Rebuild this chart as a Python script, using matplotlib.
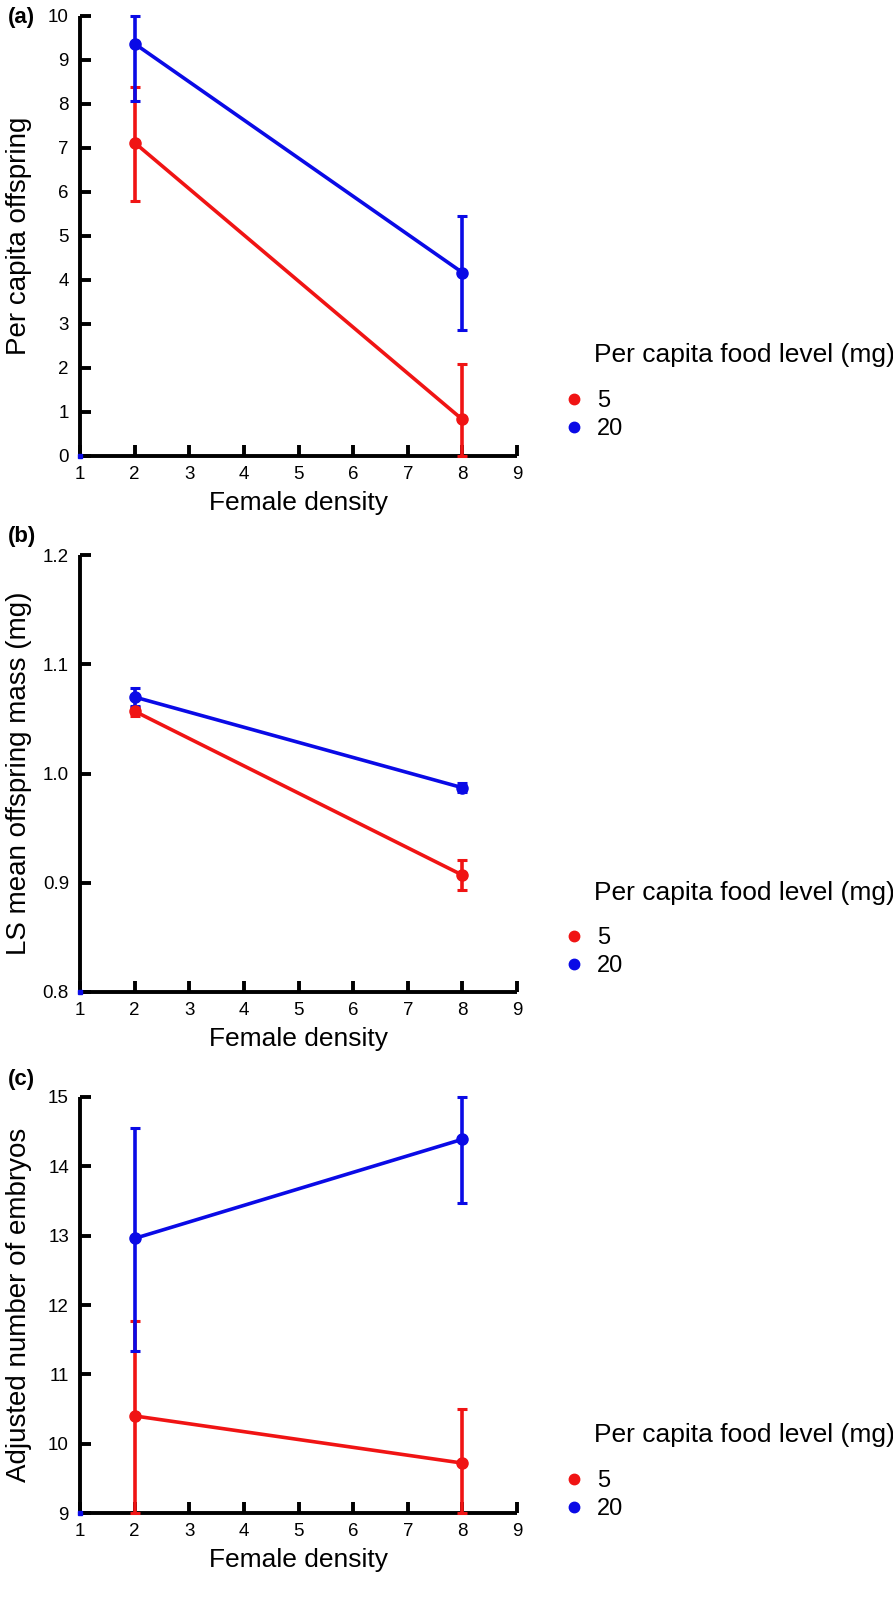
import matplotlib
matplotlib.use("Agg")
import matplotlib.pyplot as plt
from matplotlib.lines import Line2D

plt.rcParams['font.family'] = ['Liberation Sans', 'DejaVu Sans']

# ---------------- data ----------------
density = [2, 8]
food_levels = ["5", "20"]
colors = ["#f01414", "#0a0ae6"]
x_ticks = [1, 2, 3, 4, 5, 6, 7, 8, 9]

# (a) Per capita offspring
a_mean_5 = [7.12, 0.83]
a_lo_5 = [1.32, 0.83]
a_hi_5 = [1.27, 1.27]
a_mean_20 = [9.37, 4.17]
a_lo_20 = [1.30, 1.30]
a_hi_20 = [0.63, 1.28]
a_yticks = [0, 1, 2, 3, 4, 5, 6, 7, 8, 9, 10]
a_yticklabels = ["0", "1", "2", "3", "4", "5", "6", "7", "8", "9", "10"]

# (b) LS mean offspring mass (mg)
b_mean_5 = [1.057, 0.907]
b_lo_5 = [0.004, 0.014]
b_hi_5 = [0.004, 0.014]
b_mean_20 = [1.070, 0.987]
b_lo_20 = [0.008, 0.004]
b_hi_20 = [0.008, 0.004]
b_yticks = [0.8, 0.9, 1.0, 1.1, 1.2]
b_yticklabels = ["0.8", "0.9", "1.0", "1.1", "1.2"]

# (c) Adjusted number of embryos
c_mean_5 = [10.40, 9.72]
c_lo_5 = [1.40, 0.72]
c_hi_5 = [1.37, 0.78]
c_mean_20 = [12.96, 14.39]
c_lo_20 = [1.62, 0.92]
c_hi_20 = [1.59, 0.61]
c_yticks = [9, 10, 11, 12, 13, 14, 15]
c_yticklabels = ["9", "10", "11", "12", "13", "14", "15"]

panel_labels = ["(a)", "(b)", "(c)"]
y_labels = ["Per capita offspring", "LS mean offspring mass (mg)",
            "Adjusted number of embryos"]
x_label = "Female density"
legend_title = "Per capita food level (mg)"

# ---------------- figure ----------------
W, H = 893, 1599
fig = plt.figure(figsize=(W / 100, H / 100), dpi=100)

def fx(px):
    return px / W

def fy(py):
    return 1 - py / H

# axes boxes in pixels: (top, bottom)
boxes = [(16, 456), (555, 992), (1097, 1513)]
left_px, right_px = 80, 517
legend_pos = [(355, 405), (893, 942), (1435, 1485)]  # title y, first entry y
label_y = [17, 537, 1080]

panels = [
    (a_mean_5, a_lo_5, a_hi_5, a_mean_20, a_lo_20, a_hi_20, a_yticks, a_yticklabels),
    (b_mean_5, b_lo_5, b_hi_5, b_mean_20, b_lo_20, b_hi_20, b_yticks, b_yticklabels),
    (c_mean_5, c_lo_5, c_hi_5, c_mean_20, c_lo_20, c_hi_20, c_yticks, c_yticklabels),
]

for i, (m5, l5, h5, m20, l20, h20, yt, ytl) in enumerate(panels):
    top, bot = boxes[i]
    ax = fig.add_axes([fx(left_px), fy(bot), fx(right_px - left_px), (bot - top) / H])
    for m, lo, hi, col in [(m5, l5, h5, colors[0]), (m20, l20, h20, colors[1])]:
        ax.errorbar(density, m, yerr=[lo, hi], color=col, lw=2.6, marker='o',
                    ms=8, elinewidth=2.6, capsize=3.5, capthick=2.2,
                    clip_on=False, zorder=3)
    ax.set_xlim(x_ticks[0], x_ticks[-1])
    ax.set_ylim(yt[0], yt[-1])
    # tiny blue mark at origin seen in the original
    ax.plot([x_ticks[0]], [yt[0]], 's', color=colors[1], ms=2.5, clip_on=False, zorder=4)
    ax.set_xticks(x_ticks)
    ax.set_xticklabels([str(v) for v in x_ticks])
    ax.set_yticks(yt)
    ax.set_yticklabels(ytl)
    for s in ['top', 'right']:
        ax.spines[s].set_visible(False)
    for s in ['left', 'bottom']:
        ax.spines[s].set_linewidth(2.8)
        ax.spines[s].set_capstyle('butt')
    ax.tick_params(axis='both', direction='in', length=8, width=2.8,
                   labelsize=13.5, colors='black')
    ax.tick_params(axis='y', pad=8)
    ax.tick_params(axis='x', pad=7)
    h = bot - top
    ax.set_xlabel(x_label, fontsize=19)
    ax.xaxis.set_label_coords(0.5, -47 / h)
    ax.xaxis.label.set_va('center')
    ax.set_ylabel(y_labels[i], fontsize=20)
    ax.yaxis.set_label_coords(-61 / (right_px - left_px), 0.5)
    ax.yaxis.label.set_va('center')

    fig.text(fx(8), fy(label_y[i]), panel_labels[i], fontsize=16,
             fontweight='bold', va='center', ha='left')

    ty, ey = legend_pos[i]
    fig.text(fx(594), fy(ty), legend_title, fontsize=19, va='center', ha='left')
    handles = [Line2D([], [], marker='o', linestyle='none', color=c, ms=7.5)
               for c in colors]
    leg = ax.legend(handles, food_levels, loc='upper left',
                    bbox_to_anchor=(fx(566), fy(ey - 15)),
                    bbox_transform=fig.transFigure, frameon=False,
                    fontsize=17, borderpad=0, borderaxespad=0,
                    handlelength=0.65, handletextpad=0.65, labelspacing=0.25)

fig.savefig("out.png", dpi=100)
